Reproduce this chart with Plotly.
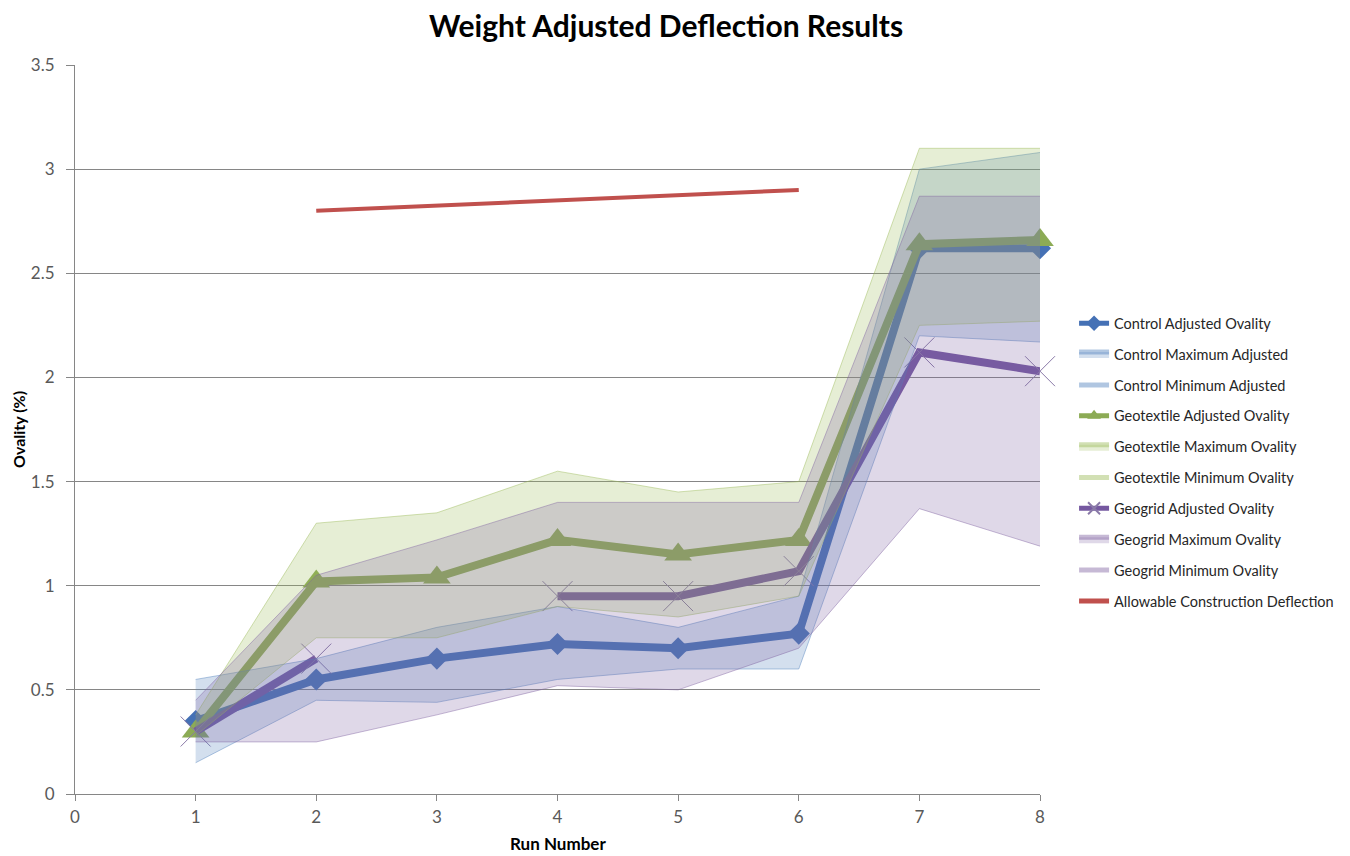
import plotly.graph_objects as go

run = [1, 2, 3, 4, 5, 6, 7, 8]

control_adj = [0.35, 0.55, 0.65, 0.72, 0.70, 0.77, 2.62, 2.62]
control_max = [0.55, 0.65, 0.80, 0.90, 0.80, 0.95, 3.00, 3.08]
control_min = [0.15, 0.45, 0.44, 0.55, 0.60, 0.60, 2.20, 2.17]

geotex_adj = [0.30, 1.02, 1.04, 1.22, 1.15, 1.22, 2.64, 2.66]
geotex_max = [0.38, 1.30, 1.35, 1.55, 1.45, 1.50, 3.10, 3.10]
geotex_min = [0.28, 0.75, 0.75, 0.90, 0.85, 0.95, 2.25, 2.27]

geogrid_adj = [0.30, 0.65, None, 0.95, 0.95, 1.07, 2.12, 2.03]
geogrid_max = [0.45, 1.05, 1.22, 1.40, 1.40, 1.40, 2.87, 2.87]
geogrid_min = [0.25, 0.25, 0.38, 0.52, 0.50, 0.70, 1.37, 1.19]

allowable = [None, 2.80, 2.825, 2.85, 2.875, 2.90, None, None]

y_ticks = [0, 0.5, 1, 1.5, 2, 2.5, 3, 3.5]
x_ticks = [0, 1, 2, 3, 4, 5, 6, 7, 8]

FONT = "Lato, 'Open Sans', sans-serif"

fig = go.Figure()

# ---- lines (drawn first so the translucent bands sit over them, as in the original)
fig.add_trace(go.Scatter(
    x=run, y=control_adj, name="Control Adjusted Ovality", mode="lines+markers",
    line=dict(color="#4571b5", width=8), marker=dict(symbol="diamond", size=17, color="#4571b5"),
    legendrank=1, legendgroup="g1", cliponaxis=False))
fig.add_trace(go.Scatter(
    x=run, y=geotex_adj, name="Geotextile Adjusted Ovality", mode="lines+markers",
    line=dict(color="#8cab55", width=8), marker=dict(symbol="triangle-up", size=24, color="#8cab55"),
    legendrank=4, legendgroup="g4", cliponaxis=False))
fig.add_trace(go.Scatter(
    x=run, y=geogrid_adj, name="Geogrid Adjusted Ovality", mode="lines+markers",
    line=dict(color="#7558a0", width=8), connectgaps=False,
    marker=dict(symbol="x-thin", size=30, color="#7558a0", line=dict(width=1, color="#8a7aa8")),
    legendrank=7, legendgroup="g7", cliponaxis=False))
fig.add_trace(go.Scatter(
    x=run, y=allowable, name="Allowable Construction Deflection", mode="lines",
    line=dict(color="#c0504d", width=4), connectgaps=False,
    legendrank=10, legendgroup="g10", cliponaxis=False))

# ---- bands
bands = [
    ("Control", control_min, control_max, "Control Minimum Adjusted", "Control Maximum Adjusted",
     "rgba(79,129,189,0.25)", "rgba(79,129,189,0.45)", 2),
    ("Geotextile", geotex_min, geotex_max, "Geotextile Minimum Ovality", "Geotextile Maximum Ovality",
     "rgba(155,187,89,0.25)", "rgba(155,187,89,0.45)", 5),
    ("Geogrid", geogrid_min, geogrid_max, "Geogrid Minimum Ovality", "Geogrid Maximum Ovality",
     "rgba(128,100,162,0.25)", "rgba(128,100,162,0.45)", 8),
]
for key, lo, hi, lo_name, hi_name, fillc, edgec, rank in bands:
    fig.add_trace(go.Scatter(
        x=run, y=lo, name=lo_name, mode="lines", line=dict(color=edgec, width=1),
        legendrank=rank + 1, legendgroup=f"g{rank+1}"))
    fig.add_trace(go.Scatter(
        x=run, y=hi, name=hi_name, mode="lines", line=dict(color=edgec, width=1),
        fill="tonexty", fillcolor=fillc,
        legendrank=rank, legendgroup=f"g{rank}"))

fig.update_layout(
    width=1350, height=856,
    margin=dict(l=67, r=318, t=57, b=70),
    paper_bgcolor="white", plot_bgcolor="white",
    font=dict(family=FONT, size=16, color="#595959"),
    title=dict(text="<b>Weight Adjusted Deflection Results</b>", x=0.4874, xanchor="center",
               y=0.978, yanchor="middle", pad=dict(t=0, b=0),
               font=dict(family=FONT, size=30, color="#000000")),
    legend=dict(x=1.0353, xanchor="left", y=0.455, yanchor="middle",
                font=dict(family=FONT, size=14.5, color="#262626"),
                traceorder="grouped", tracegroupgap=9, itemsizing="constant",
                bgcolor="rgba(0,0,0,0)"),
    showlegend=True,
)

fig.update_xaxes(range=[0, 8], tickvals=x_ticks, showgrid=False, zeroline=False,
                 showline=True, linecolor="#868686", linewidth=1,
                 ticks="outside", ticklen=6, tickcolor="#868686", ticklabelstandoff=2,
                 tickfont=dict(size=17, color="#595959"))
fig.update_yaxes(range=[0, 3.5], tickvals=y_ticks, showgrid=True, gridcolor="#868686", gridwidth=1,
                 zeroline=False, showline=True, linecolor="#868686", linewidth=1,
                 ticks="outside", ticklen=8, tickcolor="#868686", ticklabelstandoff=8,
                 tickfont=dict(size=17, color="#595959"))

fig.add_annotation(text="<b>Ovality (%)</b>", xref="paper", yref="paper", x=0, y=0.5,
                   xshift=-68, textangle=-90, showarrow=False,
                   font=dict(family=FONT, size=16, color="#000000"))
fig.add_annotation(text="<b>Run Number</b>", xref="paper", yref="paper", x=0.5, y=0,
                   yshift=-62, showarrow=False,
                   font=dict(family=FONT, size=17, color="#000000"))

fig.write_html("out.html")
